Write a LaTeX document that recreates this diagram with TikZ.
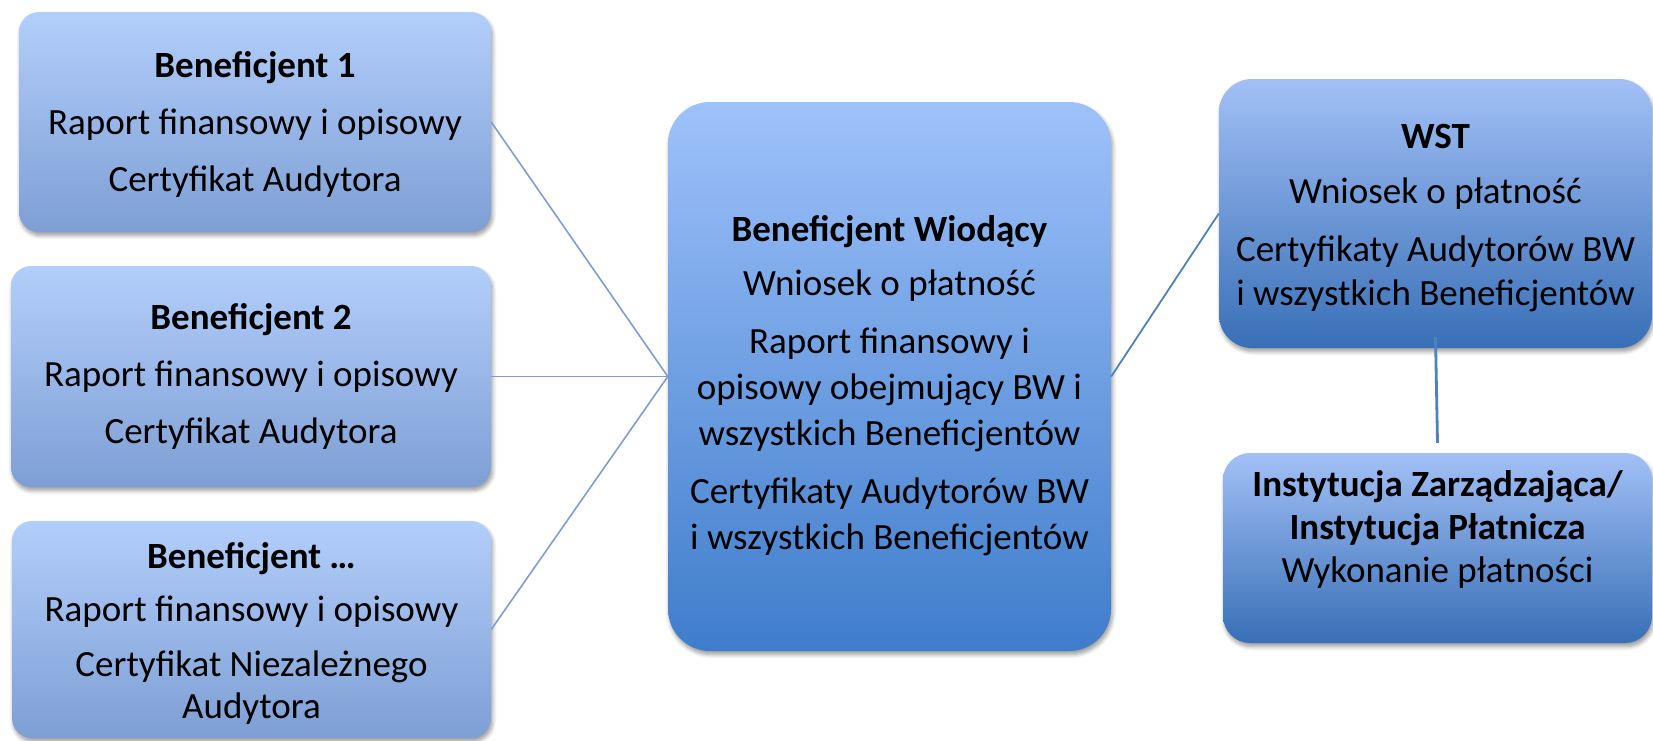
\documentclass[tikz,border=0pt]{standalone}
\usepackage{fontspec}
\setmainfont{Carlito}
\usetikzlibrary{shadows.blur}
\definecolor{lbTop}{RGB}{178,206,251}
\definecolor{lbBot}{RGB}{126,159,212}
\definecolor{cbTop}{RGB}{158,193,250}
\definecolor{cbBot}{RGB}{63,125,203}
\definecolor{rbTop}{RGB}{162,192,246}
\definecolor{rbBot}{RGB}{56,111,182}
\definecolor{lineA}{RGB}{127,157,208}
\definecolor{lineB}{RGB}{79,129,189}
\tikzset{
  shd/.style={blur shadow={shadow xshift=1.5pt, shadow yshift=-3.5pt, shadow blur radius=4pt, shadow blur steps=6, shadow opacity=40}},
  lbox/.style={shd, rounded corners=20pt, top color=lbTop, bottom color=lbBot, inner sep=0pt},
  cbox/.style={shd, rounded corners=42pt, top color=cbTop, bottom color=cbBot, inner sep=0pt},
  rbox/.style={shd, rounded corners=#1, top color=rbTop, bottom color=rbBot, inner sep=0pt},
  txt/.style={align=center, font=\fontsize{37}{#1}\selectfont, text=black, inner sep=0pt},
  linkA/.style={draw=lineA, line width=1.6pt},
  linkB/.style={draw=lineB, line width=1.8pt},
  linkC/.style={draw=lineB, line width=2.8pt}
}
\begin{document}
\begin{tikzpicture}[x=1pt,y=-1pt]
\useasboundingbox (0,0) rectangle (1653,740);
% boxes
\node[lbox, minimum width=472pt, minimum height=220pt] (b1) at (255,122) {};
\node[lbox, minimum width=480pt, minimum height=221pt] (b2) at (251,376.5) {};
\node[lbox, minimum width=479pt, minimum height=217pt] (b3) at (251.5,629.5) {};
\node[cbox, minimum width=443pt, minimum height=549pt] (bw) at (889.5,376.5) {};
\node[rbox=33pt, minimum width=433pt, minimum height=269pt] (wst) at (1435.5,213.5) {};
\node[rbox=27pt, minimum width=429pt, minimum height=190pt] (iz) at (1437.5,548) {};
% texts
\node[txt=44] (b1t) at ([yshift=-2pt]b1.center) {{\bfseries Beneficjent 1}\\[13pt] Raport finansowy i opisowy\\[13pt] Certyfikat Audytora};
\node[txt=44] (b2t) at (b2.center) {{\bfseries Beneficjent 2}\\[13pt] Raport finansowy i opisowy\\[13pt] Certyfikat Audytora};
\node[txt=42] (b3t) at ([yshift=-4pt]b3.center) {{\bfseries Beneficjent …}\\[11pt] Raport finansowy i opisowy\\[13pt] Certyfikat Niezależnego\\ Audytora};
\node[txt=46] (bwt) at ([yshift=-9pt]bw.center) {{\bfseries Beneficjent Wiodący}\\[8pt] Wniosek o płatność\\[12pt] Raport finansowy i\\ opisowy obejmujący BW i\\ wszystkich Beneficjentów\\[12pt] Certyfikaty Audytorów BW\\ i wszystkich Beneficjentów};
\node[txt=44] (wstt) at ([yshift=-5pt]wst.center) {{\bfseries WST}\\[11pt] Wniosek o płatność\\[14pt] Certyfikaty Audytorów BW\\ i wszystkich Beneficjentów};
\node[txt=43] (izt) at ([yshift=19pt]iz.center) {{\bfseries Instytucja Zarządzająca/}\\ {\bfseries Instytucja Płatnicza}\\ Wykonanie płatności};
% connectors
\draw[linkA] (b1.east) -- (bw.west);
\draw[linkA] (b2.east) -- (bw.west);
\draw[linkA] (b3.east) -- (bw.west);
\draw[linkB] (bw.east) -- (wst.west);
\draw[linkC] ([yshift=11pt]wst.south) -- ([yshift=10pt]iz.north);
\end{tikzpicture}
\end{document}
